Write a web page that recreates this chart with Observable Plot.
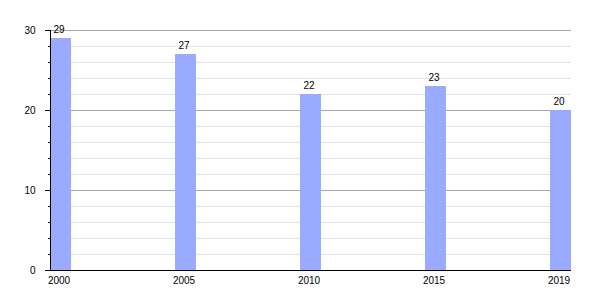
<!DOCTYPE html>
<html>
<head>
<meta charset="utf-8">
<script src="https://cdn.jsdelivr.net/npm/d3@7"></script>
<script src="https://cdn.jsdelivr.net/npm/@observablehq/plot@0.6"></script>
<style>
  html, body { margin: 0; padding: 0; background: #fff; }
  #chart svg { display: block; }
</style>
</head>
<body>
<div id="chart"></div>
<script>
const years = ["2000", "2005", "2010", "2015", "2019"];
const values = [29, 27, 22, 23, 20];
const majorTicks = [0, 10, 20, 30];
const minorTicks = [2, 4, 6, 8, 12, 14, 16, 18, 22, 24, 26, 28];

const data = years.map((y, i) => ({year: y, value: values[i]}));

const chart = Plot.plot({
  width: 600,
  height: 300,
  marginLeft: 50,
  marginRight: 29,
  marginTop: 30,
  marginBottom: 30,
  style: {fontFamily: "'Liberation Sans', Arial, sans-serif", fontSize: "10px", color: "#000", background: "#fff"},
  x: {type: "band", domain: years, paddingInner: 0.832, paddingOuter: 0, label: null},
  y: {domain: [0, 30], label: null},
  marks: [
    Plot.gridY(minorTicks, {stroke: "#e2e2e2", strokeOpacity: 1}),
    Plot.gridY(majorTicks.filter(d => d > 0), {stroke: "#a8a8a8", strokeOpacity: 1}),
    Plot.barY(data, {x: "year", y: "value", fill: "#99aaff"}),
    Plot.text(data, {x: "year", y: "value", text: d => String(d.value), dy: -9, dx: -2, fontSize: 10, fill: "#000"}),
    Plot.ruleY([0], {stroke: "#000"}),
    Plot.frame({anchor: "left", stroke: "#000"}),
    Plot.axisY(majorTicks, {tickSize: 5, tickPadding: 10, label: null, fontSize: 10}),
    Plot.axisY(minorTicks, {tickSize: 2, text: null, label: null}),
    Plot.axisX({tickSize: 0, tickPadding: 6, label: null, dx: -2, fontSize: 10})
  ]
});
document.getElementById("chart").appendChild(chart);
</script>
</body>
</html>
